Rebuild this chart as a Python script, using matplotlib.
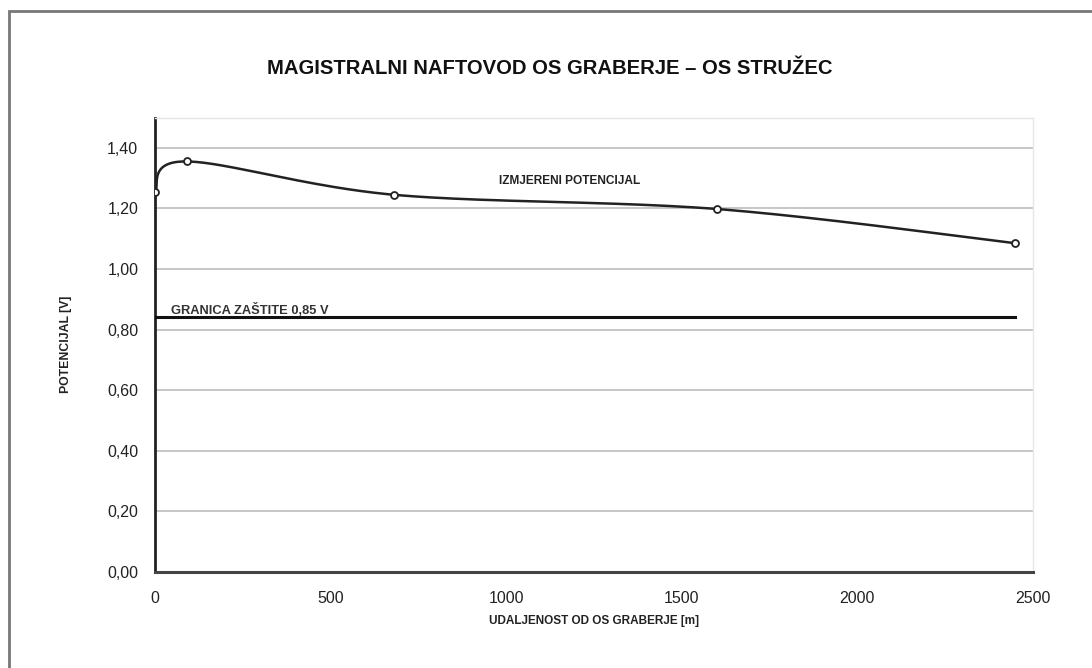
import numpy as np
import matplotlib
matplotlib.use("Agg")
import matplotlib.pyplot as plt
from matplotlib.patches import Rectangle

plt.rcParams['font.family'] = ['Liberation Sans', 'DejaVu Sans']

# izmjereni potencijal
udaljenost = [0, 90, 680, 1600, 2450]
potencijal = [1.255, 1.355, 1.245, 1.198, 1.085]

# granica zastite
granica_x = [0, 2450]
granica_y = [0.84, 0.84]

x_ticks = [0, 500, 1000, 1500, 2000, 2500]
y_ticks = [0.0, 0.2, 0.4, 0.6, 0.8, 1.0, 1.2, 1.4]


def smooth(xs, ys, sx, sy, n=40):
    """Bezier smoothing like Excel (control = P +/- (Pnext - Pprev)/6)"""
    P = np.column_stack([np.array(xs) * sx, np.array(ys) * sy])
    out = []
    for i in range(len(P) - 1):
        p0 = P[i - 1] if i > 0 else P[i]
        p1 = P[i]
        p2 = P[i + 1]
        p3 = P[i + 2] if i + 2 < len(P) else P[i + 1]
        c1 = p1 + (p2 - p0) / 6
        c2 = p2 - (p3 - p1) / 6
        t = np.linspace(0, 1, n)[:, None]
        seg = ((1 - t) ** 3) * p1 + 3 * ((1 - t) ** 2) * t * c1 + 3 * (1 - t) * t ** 2 * c2 + t ** 3 * p2
        out.append(seg if i == 0 else seg[1:])
    out = np.vstack(out)
    return out[:, 0] / sx, out[:, 1] / sy


fig = plt.figure(figsize=(10.92, 6.68), dpi=100)
fig.patches.append(Rectangle((9 / 1092, -0.1), 1.2, (668 - 11) / 668 + 0.1,
                             transform=fig.transFigure, fill=False,
                             edgecolor='#777777', linewidth=2))

ax = fig.add_axes([155 / 1092, 96 / 668, 878 / 1092, 454.5 / 668])
ax.set_xlim(0, 2500)
ax.set_ylim(0, 1.5)

ax.set_yticks(y_ticks)
ax.set_yticklabels([f"{v:.2f}".replace('.', ',') for v in y_ticks])
ax.set_xticks(x_ticks)
ax.set_xticklabels([str(v) for v in x_ticks])
ax.tick_params(length=0, labelsize=11.5, labelcolor='#222222')
ax.tick_params(axis='y', pad=12)
ax.tick_params(axis='x', pad=14)
ax.grid(axis='y', color='#bdbdbd', linewidth=1.2)
ax.set_axisbelow(True)

for s in ['top', 'right']:
    ax.spines[s].set_color('#e6e6e6')
    ax.spines[s].set_linewidth(1)
ax.spines['left'].set_color('#222222')
ax.spines['left'].set_linewidth(2)
ax.spines['bottom'].set_color('#444444')
ax.spines['bottom'].set_linewidth(2.2)

sx_px, sy_px = 878 / 2500, 454.5 / 1.5
cx, cy = smooth(udaljenost, potencijal, sx_px, sy_px)
ax.plot(cx, cy, color='#222222', linewidth=1.8, zorder=3)
ax.plot(udaljenost, potencijal, linestyle='none', marker='o', markersize=5,
        markerfacecolor='white', markeredgecolor='#222222', markeredgewidth=1.3, zorder=4)

ax.plot(granica_x, granica_y, color='#111111', linewidth=2.2, zorder=3)

ax.text(980, 1.29, "IZMJERENI POTENCIJAL", fontsize=8.6, fontweight='bold',
        color='#222222', va='center')
ax.text(45, 0.865, "GRANICA ZAŠTITE 0,85 V", fontsize=9.3, fontweight='bold',
        color='#333333', va='center')

ax.set_xlabel("UDALJENOST OD OS GRABERJE [m]", fontsize=8.5, fontweight='bold',
              color='#222222', labelpad=6)
ax.set_ylabel("POTENCIJAL [V]", fontsize=8.8, fontweight='bold', color='#222222',
              labelpad=25)

fig.text(550 / 1092, 1 - 68 / 668, "MAGISTRALNI NAFTOVOD OS GRABERJE – OS STRUŽEC",
         fontsize=14.6, fontweight='bold', color='#111111', ha='center', va='center')

fig.savefig("out.png", dpi=100)
